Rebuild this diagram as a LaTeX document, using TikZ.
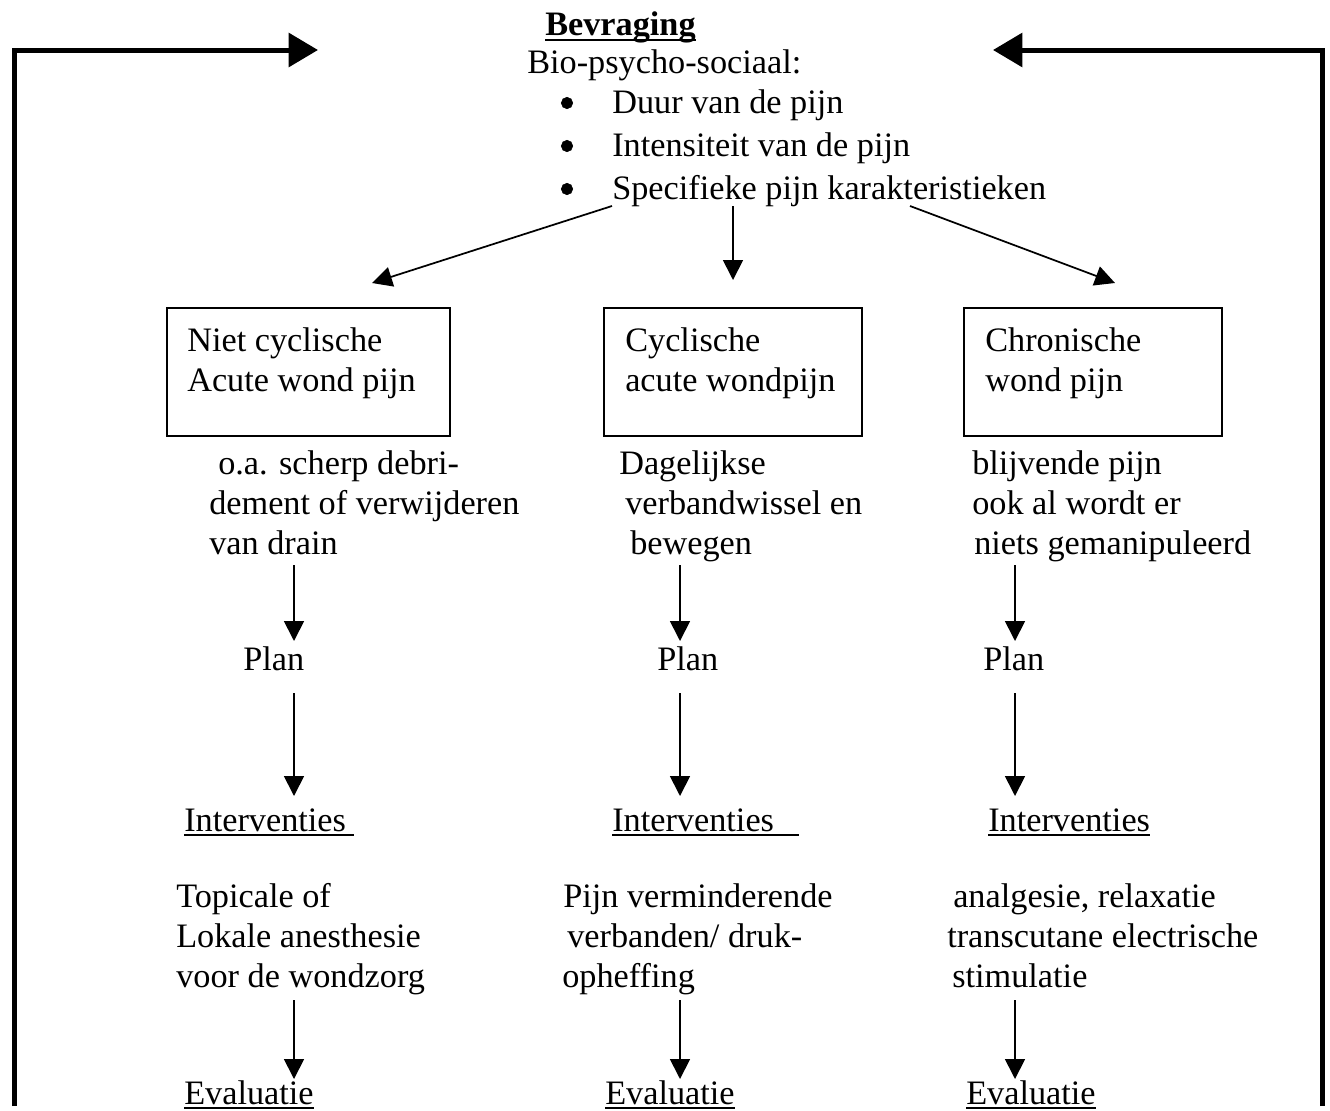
\documentclass[tikz,border=0pt]{standalone}
\usepackage{fontspec}
\setmainfont{Liberation Serif}
\usetikzlibrary{arrows.meta,calc}
\begin{document}
\begin{tikzpicture}[x=0.75pt,y=-0.75pt,
  t/.style={anchor=base west,inner sep=0pt,font=\fontsize{25.7}{30}\selectfont},
  tb/.style={anchor=base west,inner sep=0pt,font=\fontsize{25.7}{30}\selectfont\bfseries},
  bul/.style={circle,draw=black,fill=black,line width=0.5pt,inner sep=0pt,minimum size=8.5pt},
  boxn/.style={draw,line width=1.5pt,anchor=north west,inner sep=0pt,minimum height=96pt},
  thinarr/.style={line width=1.3pt,-{Triangle[length=15pt,width=15pt]}},
  framearr/.style={line width=3.75pt,line join=miter,-{Triangle[length=22pt,width=25pt]}},
  ul/.style={line width=1.2pt}]
\useasboundingbox (0,0) rectangle (1330,1110);

% header
\node[tb] (bev) at (545,35) {Bevraging};
\draw[line width=2.2pt] ($(bev.base west)+(0,5)$) -- ($(bev.base east)+(0,5)$);
\node[t] (bio) at (527,73) {Bio-psycho-sociaal:};
\node[bul] (bul1) at (567,103) {};
\node[bul] (bul2) at (567,146) {};
\node[bul] (bul3) at (567,189) {};
\node[t] (it1) at (612,113) {Duur van de pijn};
\node[t] (it2) at (612,156) {Intensiteit van de pijn};
\node[t] (it3) at (612,199) {Specifieke pijn karakteristieken};

% frame arrows
\coordinate (fl0) at (14,1106);
\coordinate (fl1) at (14,50);
\coordinate (fl2) at (318,50);
\coordinate (fr0) at (1322,1106);
\coordinate (fr1) at (1322,50);
\coordinate (fr2) at (993,50);
\draw[framearr] (fl0) -- (fl1) -- (fl2);
\draw[framearr] (fr0) -- (fr1) -- (fr2);

% boxes
\node[boxn,minimum width=212.25pt] (b1) at (166,307) {};
\node[boxn,minimum width=193.5pt] (b2) at (603,307) {};
\node[boxn,minimum width=193.5pt] (b3) at (963,307) {};
\node[t] (b1a) at (187,351) {Niet cyclische};
\node[t] (b1b) at (187,391) {Acute wond pijn};
\node[t] (b2a) at (625,351) {Cyclische};
\node[t] (b2b) at (625,391) {acute wondpijn};
\node[t] (b3a) at (985,351) {Chronische};
\node[t] (b3b) at (985,391) {wond pijn};

% top arrows
\coordinate (s1) at (612,206);
\coordinate (s2) at (733,206);
\coordinate (s3) at (910,206);
\coordinate (e1) at (372,283);
\coordinate (e2) at (733,280);
\coordinate (e3) at (1115,283);
\draw[thinarr] (s1) -- (e1);
\draw[thinarr] (s2) -- (e2);
\draw[thinarr] (s3) -- (e3);

% descriptions
\node[t] (d1a) at (218,474) {o.a. scherp debri-};
\node[t] (d1b) at (209,514) {dement of verwijderen};
\node[t] (d1c) at (209,554) {van drain};
\node[t] (d2a) at (619,474) {Dagelijkse};
\node[t] (d2b) at (625,514) {verbandwissel en};
\node[t] (d2c) at (630,554) {bewegen};
\node[t] (d3a) at (972,474) {blijvende pijn};
\node[t] (d3b) at (972,514) {ook al wordt er};
\node[t] (d3c) at (974,554) {niets gemanipuleerd};

% plan
\node[t] (p1) at (243,670) {Plan};
\node[t] (p2) at (657,670) {Plan};
\node[t] (p3) at (983,670) {Plan};

% interventies
\node[t] (i1) at (184,831) {Interventies};
\node[t] (i2) at (612,831) {Interventies};
\node[t] (i3) at (988,831) {Interventies};
\draw[ul] ($(i1.base west)+(0,4)$) -- ($(i1.base east)+(8,4)$);
\draw[ul] ($(i2.base west)+(0,4)$) -- ($(i2.base east)+(25,4)$);
\draw[ul] ($(i3.base west)+(0,4)$) -- ($(i3.base east)+(0,4)$);

% intervention texts
\node[t] (v1a) at (176,907) {Topicale of};
\node[t] (v1b) at (176,947) {Lokale anesthesie};
\node[t] (v1c) at (176,987) {voor de wondzorg};
\node[t] (v2a) at (563,907) {Pijn verminderende};
\node[t] (v2b) at (567,947) {verbanden/ druk-};
\node[t] (v2c) at (562,987) {opheffing};
\node[t] (v3a) at (953,907) {analgesie, relaxatie};
\node[t] (v3b) at (947,947) {transcutane electrische};
\node[t] (v3c) at (952,987) {stimulatie};

% evaluatie
\node[t] (ev1) at (184,1104) {Evaluatie};
\node[t] (ev2) at (605,1104) {Evaluatie};
\node[t] (ev3) at (966,1104) {Evaluatie};
\draw[ul] ($(ev1.base west)+(0,4)$) -- ($(ev1.base east)+(0,4)$);
\draw[ul] ($(ev2.base west)+(0,4)$) -- ($(ev2.base east)+(0,4)$);
\draw[ul] ($(ev3.base west)+(0,4)$) -- ($(ev3.base east)+(0,4)$);

% vertical arrows
\foreach \c/\x in {1/294,2/680,3/1015}{
  \coordinate (ua\c) at (\x,565);
  \coordinate (ub\c) at (\x,641);
  \coordinate (uc\c) at (\x,693);
  \coordinate (ud\c) at (\x,796);
  \coordinate (ue\c) at (\x,1000);
  \coordinate (uf\c) at (\x,1079);
  \draw[thinarr] (ua\c) -- (ub\c);
  \draw[thinarr] (uc\c) -- (ud\c);
  \draw[thinarr] (ue\c) -- (uf\c);
}
\end{tikzpicture}
\end{document}
